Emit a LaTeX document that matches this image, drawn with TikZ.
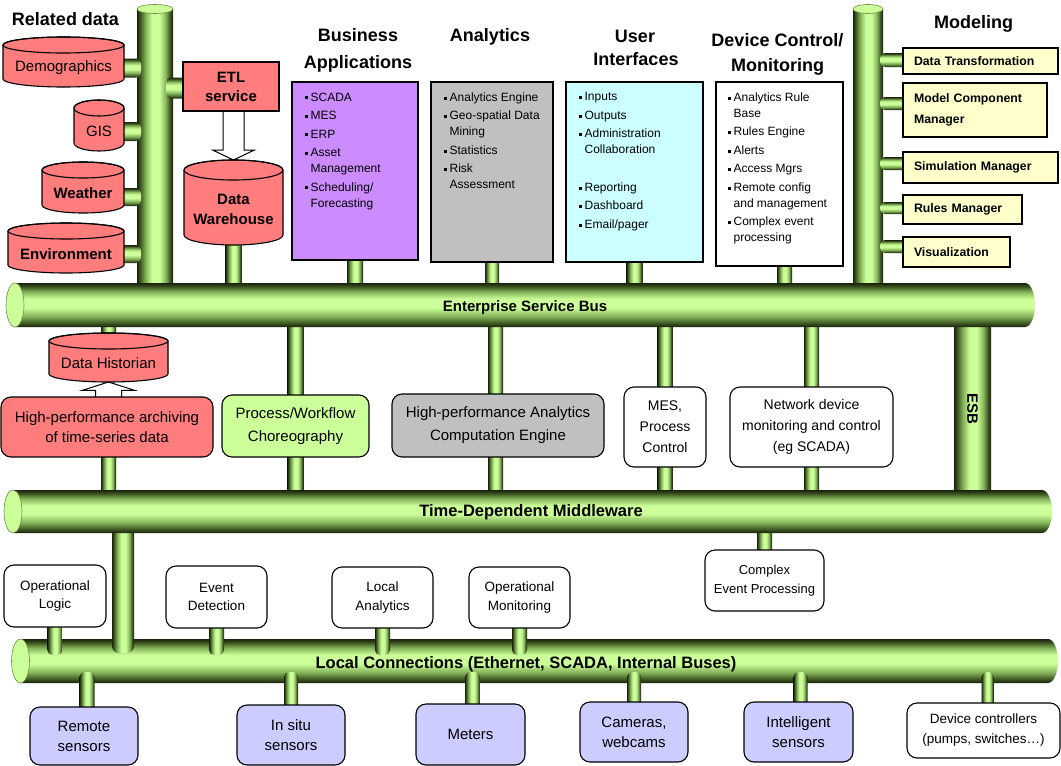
\documentclass[tikz,border=0pt]{standalone}
\usepackage{fontspec}
\setmainfont{Liberation Sans}
\usetikzlibrary{calc}

% pipe colours
\definecolor{pD}{RGB}{24,34,12}
\definecolor{pD2}{RGB}{58,82,30}
\definecolor{pM}{RGB}{132,178,90}
\definecolor{pL}{RGB}{204,255,153}
\definecolor{capRim}{RGB}{110,140,70}
% box colours
\definecolor{redF}{RGB}{255,125,125}
\definecolor{purF}{RGB}{204,140,255}
\definecolor{grayF}{RGB}{192,192,192}
\definecolor{cyanF}{RGB}{204,255,255}
\definecolor{yelF}{RGB}{255,255,204}
\definecolor{lavF}{RGB}{204,204,255}
\definecolor{grnF}{RGB}{204,255,153}

% tube shadings: dark rims, light core
\pgfdeclareverticalshading{hpipe}{100bp}{color(0bp)=(pD); color(25bp)=(pD); color(29bp)=(pD2); color(37bp)=(pM); color(47bp)=(pL); color(57bp)=(pL); color(65bp)=(pM); color(71bp)=(pD2); color(75bp)=(pD); color(100bp)=(pD)}
\pgfdeclarehorizontalshading{vpipe}{100bp}{color(0bp)=(pD); color(25bp)=(pD); color(29bp)=(pD2); color(37bp)=(pM); color(46bp)=(pL); color(56bp)=(pL); color(65bp)=(pM); color(71bp)=(pD2); color(75bp)=(pD); color(100bp)=(pD)}

\pgfdeclarelayer{back}
\pgfdeclarelayer{lbus}
\pgfdeclarelayer{lfront}
\pgfdeclarelayer{bus}
\pgfsetlayers{back,lbus,lfront,bus,main}

% small square bullet and matching indent
\newcommand\bul{\makebox[6pt][l]{\rule[1.8pt]{3pt}{3pt}}}
\newcommand\bulsp{\hspace*{6pt}}

% database drum: name, left, top, right, bottom, ellipse radius, font, text
\newcommand\dbcyl[8]{%
  \filldraw[cylstyle] (#2,{-(#3)-(#6)}) -- (#2,{-(#5)+(#6)})
    arc[start angle=180,end angle=360,x radius={((#4)-(#2))/2},y radius=#6]
    -- (#4,{-(#3)-(#6)})
    arc[start angle=0,end angle=180,x radius={((#4)-(#2))/2},y radius=#6] -- cycle;
  \draw[cylstyle,fill=none] ({((#2)+(#4))/2},{-(#3)-(#6)}) ellipse[x radius={((#4)-(#2))/2},y radius=#6];
  \node[pin,minimum width={(#4)-(#2)},minimum height={(#5)-(#3)}] (#1) at ({((#2)+(#4))/2},{-((#3)+(#5))/2}) {};
  \node[inner sep=0pt,align=center,font=#7] (#1-t) at ({((#2)+(#4))/2},{-((#3)+(#5))/2-(#6)/2-2}) {#8};
}

% horizontal bus tube: flat face on the left, rounded right end
\newcommand\hbus[2]{%
  \shade[shading=hpipe] (#1.north west) -- ([xshift=-10pt]#1.north east)
    arc[start angle=90,end angle=-90,x radius=10,y radius=#2] -- (#1.south west) -- cycle;
  \filldraw[fill=pL,draw=capRim,line width=.6pt] (#1.west) ellipse[x radius=9,y radius=#2];
}

\begin{document}
\begin{tikzpicture}[x=1pt,y=1pt,
  pin/.style={inner sep=0pt,outer sep=0pt,draw=none,shape=rectangle},
  frame/.style={draw=black,line width=1.1pt},
  sqbox/.style={frame,inner sep=0pt,align=center},
  rbox/.style={frame,rounded corners=10pt,inner sep=0pt,align=center},
  cylstyle/.style={draw=black,line width=1.1pt,fill=redF},
  title/.style={font=\fontsize{18}{22}\selectfont\bfseries,anchor=base,inner sep=0pt},
  blist/.style={anchor=north west,align=left,inner sep=0pt,font=\fontsize{12}{16}\selectfont},
  model/.style={frame,fill=yelF,align=left,inner xsep=11pt,inner ysep=0pt,font=\fontsize{12.3}{21}\selectfont\bfseries},
  blockarrow/.style={draw=black,line width=1pt,fill=white,line join=miter},
  f15/.style={font=\fontsize{15}{20}\selectfont},
  f15b/.style={font=\fontsize{15}{19}\selectfont\bfseries},
]
\useasboundingbox (0,0) rectangle (1061,-766);

% ---------- tube anchors ----------
\node[pin,minimum width=1020,minimum height=44] (esb) at (525,-305) {};
\node[pin,minimum width=1039,minimum height=43] (tdm) at (532.5,-511.5) {};
\node[pin,minimum width=1037.5,minimum height=44] (lcb) at (539.25,-661) {};
\node[pin,minimum width=36,minimum height=281] (relpipe) at (155,-149.5) {};
\node[pin,minimum width=30,minimum height=281] (modpipe) at (868,-149.5) {};
\node[pin,minimum width=37,minimum height=177] (esbv) at (972.5,-408.5) {};
\coordinate (tdmdrop) at (123,-653);

% ---------- titles ----------
\node[title] (t-rel) at (65.5,-25) {Related data};
\node[title] (t-biz1) at (358,-41.7) {Business};
\node[title] (t-biz2) at (358,-68.3) {Applications};
\node[title] (t-an) at (490,-41.7) {Analytics};
\node[title] (t-ui1) at (635,-42.3) {User};
\node[title] (t-ui2) at (636,-65.7) {Interfaces};
\node[title] (t-dev1) at (777.5,-46.7) {Device Control/};
\node[title] (t-dev2) at (777.5,-71.7) {Monitoring};
\node[title] (t-mod) at (973.5,-28.3) {Modeling};

% ---------- related data stores ----------
\dbcyl{demo}{3}{37}{124}{87}{8}{\fontsize{15}{19}\selectfont}{Demographics}
\dbcyl{gis}{74}{100}{124}{151}{8}{\fontsize{15}{19}\selectfont}{GIS}
\dbcyl{weather}{42}{162}{124}{213}{8}{\fontsize{15}{19}\selectfont\bfseries}{Weather}
\dbcyl{env}{8}{223}{124}{273}{8}{\fontsize{15}{19}\selectfont\bfseries}{Environment}
\dbcyl{dw}{184}{160}{283}{245}{10}{\fontsize{15}{20}\selectfont\bfseries}{Data\\Warehouse}
\dbcyl{hist}{49}{333}{168}{382}{8}{\fontsize{15}{19}\selectfont}{Data Historian}

\node[sqbox,fill=redF,minimum width=96,minimum height=49,f15b] (etl) at (231,-86.5) {ETL\\service};

% ---------- application blocks ----------
\node[sqbox,fill=purF,minimum width=126,minimum height=178] (biz) at (355,-171) {};
\node[sqbox,fill=grayF,minimum width=122,minimum height=180] (an) at (492,-172) {};
\node[sqbox,fill=cyanF,minimum width=137,minimum height=180] (ui) at (634.5,-172) {};
\node[sqbox,fill=white,minimum width=127,minimum height=184] (dev) at (779.5,-174) {};

\node[blist] (biz-l) at ($(biz.north west)+(13,-11)$)
  {\bul SCADA\\[2.5pt]\bul MES\\[2.5pt]\bul ERP\\[2.5pt]\bul Asset\\\bulsp Management\\[2.5pt]\bul Scheduling/\\\bulsp Forecasting};
\node[blist] (an-l) at ($(an.north west)+(13,-11)$)
  {\bul Analytics Engine\\[2.5pt]\bul Geo-spatial Data\\\bulsp Mining\\[2.5pt]\bul Statistics\\[2.5pt]\bul Risk\\\bulsp Assessment};
\node[blist] (ui-l) at ($(ui.north west)+(13,-11)$)
  {\bul Inputs\\[2.5pt]\bul Outputs\\[2.5pt]\bul Administration\\\bulsp Collaboration\\[21.5pt]\bul Reporting\\[2.5pt]\bul Dashboard\\[2.5pt]\bul Email/pager};
\node[blist] (dev-l) at ($(dev.north west)+(12,-11)$)
  {\bul Analytics Rule\\\bulsp Base\\[2.5pt]\bul Rules Engine\\[2.5pt]\bul Alerts\\[2.5pt]\bul Access Mgrs\\[2.5pt]\bul Remote config\\\bulsp and management\\[2.5pt]\bul Complex event\\\bulsp processing};

% ---------- modeling components ----------
\node[model,text width=133pt,minimum height=26] (dt) at (980.5,-61) {Data Transformation};
\node[model,text width=122pt,minimum height=54] (mcm) at (975,-110) {Model Component\\Manager};
\node[model,text width=133pt,minimum height=31] (sim) at (980.5,-167.5) {Simulation Manager};
\node[model,text width=97pt,minimum height=29] (rules) at (962.5,-209.5) {Rules Manager};
\node[model,text width=85pt,minimum height=30] (vis) at (956.5,-252) {Visualization};

% ---------- middle tier ----------
\node[rbox,fill=redF,minimum width=212,minimum height=60,f15] (arch) at (107,-427) {High-performance archiving\\of time-series data};
\node[rbox,fill=grnF,minimum width=147,minimum height=62,font=\fontsize{15}{23}\selectfont] (pwc) at (295.5,-426) {Process/Workflow\\Choreography};
\node[rbox,fill=grayF,minimum width=212,minimum height=63,font=\fontsize{15}{23}\selectfont] (hpa) at (498,-425.5) {High-performance Analytics\\Computation Engine};
\node[rbox,fill=white,minimum width=82,minimum height=80,font=\fontsize{14}{21}\selectfont] (mes) at (665,-427) {MES,\\Process\\Control};
\node[rbox,fill=white,minimum width=163,minimum height=80,font=\fontsize{14}{21}\selectfont] (ndm) at (811.5,-427) {Network device\\monitoring and control\\(eg SCADA)};
\node[rbox,fill=white,minimum width=119,minimum height=61,font=\fontsize{13}{19}\selectfont] (cep) at (764.5,-580.5) {Complex\\Event Processing};

% ---------- local functions ----------
\node[rbox,fill=white,minimum width=102,minimum height=62,font=\fontsize{13.5}{18.5}\selectfont] (opl) at (55,-596) {Operational\\Logic};
\node[rbox,fill=white,minimum width=101,minimum height=62,font=\fontsize{13.5}{18.5}\selectfont] (evd) at (216.5,-597) {Event\\Detection};
\node[rbox,fill=white,minimum width=101,minimum height=61,font=\fontsize{13.5}{18.5}\selectfont] (lan) at (382.5,-597.5) {Local\\Analytics};
\node[rbox,fill=white,minimum width=101,minimum height=61,font=\fontsize{13.5}{18.5}\selectfont] (opm) at (519.5,-597.5) {Operational\\Monitoring};

% ---------- field devices ----------
\node[rbox,fill=lavF,minimum width=108,minimum height=58,f15] (rs) at (84,-736) {Remote\\sensors};
\node[rbox,fill=lavF,minimum width=108,minimum height=60,f15] (iss) at (291,-735) {In situ\\sensors};
\node[rbox,fill=lavF,minimum width=109,minimum height=61,f15] (met) at (470.5,-734.5) {Meters};
\node[rbox,fill=lavF,minimum width=108,minimum height=60,f15] (cam) at (634,-732) {Cameras,\\webcams};
\node[rbox,fill=lavF,minimum width=109,minimum height=60,f15] (ins) at (798.5,-732) {Intelligent\\sensors};
\node[rbox,fill=white,minimum width=153,minimum height=55,font=\fontsize{13.5}{20}\selectfont] (dc) at (983.5,-730.5) {Device controllers\\(pumps, switches\ldots)};

% ---------- tubes behind everything ----------
\begin{pgfonlayer}{back}
  % vertical risers with an open top face
  \shade[shading=vpipe] (relpipe.south west) rectangle (relpipe.north east);
  \filldraw[fill=pL,draw=capRim,line width=.6pt] (relpipe.north) ellipse[x radius=18,y radius=4.5];
  \shade[shading=vpipe] (modpipe.south west) rectangle (modpipe.north east);
  \filldraw[fill=pL,draw=capRim,line width=.6pt] (modpipe.north) ellipse[x radius=15,y radius=4.5];
  \shade[shading=vpipe] (esbv.south west) rectangle (esbv.north east);
  % drops onto the Enterprise Service Bus
  \shade[shading=vpipe] ($(biz.center)+(-8,0)$) rectangle ($(biz.center |- esb.center)+(8,0)$);
  \shade[shading=vpipe] ($(an.center)+(-7,0)$) rectangle ($(an.center |- esb.center)+(7,0)$);
  \shade[shading=vpipe] ($(ui.center)+(-8,0)$) rectangle ($(ui.center |- esb.center)+(8,0)$);
  \shade[shading=vpipe] ($(dev.center)+(-2.5,0)$) rectangle ($(dev.center |- esb.center)+(12.5,0)$);
  \shade[shading=vpipe] ($(dw.center)+(-8,0)$) rectangle ($(dw.center |- esb.center)+(8,0)$);
  % links between the two middleware buses
  \shade[shading=vpipe] ($(hist.center |- esb.center)+(-7.5,0)$) rectangle ($(hist.center)+(7.5,0)$);
  \shade[shading=vpipe] ($(hist.center |- arch.center)+(-7.5,0)$) rectangle ($(hist.center |- tdm.center)+(7.5,0)$);
  \shade[shading=vpipe] ($(pwc.center |- esb.center)+(-8,0)$) rectangle ($(pwc.center |- tdm.center)+(8,0)$);
  \shade[shading=vpipe] ($(hpa.center |- esb.center)+(-10,0)$) rectangle ($(hpa.center |- tdm.center)+(5,0)$);
  \shade[shading=vpipe] ($(mes.center |- esb.center)+(-7.5,0)$) rectangle ($(mes.center |- tdm.center)+(7.5,0)$);
  \shade[shading=vpipe] ($(ndm.center |- esb.center)+(-7.5,0)$) rectangle ($(ndm.center |- tdm.center)+(7.5,0)$);
  \shade[shading=vpipe] ($(cep.center)+(-7.5,0)$) rectangle ($(cep.center |- tdm.center)+(7.5,0)$);
\end{pgfonlayer}

% ---------- local bus ----------
\begin{pgfonlayer}{lbus}
  \hbus{lcb}{22}
\end{pgfonlayer}

\begin{pgfonlayer}{lfront}
  % taps on the local bus
  \shade[shading=vpipe,rounded corners=5pt] ($(opl.center)+(-7.5,0)$) rectangle ($(opl.center |- lcb.north)+(7.5,-16)$);
  \shade[shading=vpipe,rounded corners=5pt] ($(evd.center)+(-7.5,0)$) rectangle ($(evd.center |- lcb.north)+(7.5,-16)$);
  \shade[shading=vpipe,rounded corners=5pt] ($(lan.center)+(-7.5,0)$) rectangle ($(lan.center |- lcb.north)+(7.5,-16)$);
  \shade[shading=vpipe,rounded corners=5pt] ($(opm.center)+(-7.5,0)$) rectangle ($(opm.center |- lcb.north)+(7.5,-16)$);
  \shade[shading=vpipe,rounded corners=5pt] ($(rs.center)+(-4.5,0)$) rectangle ($(rs.center |- lcb.south)+(10.5,11)$);
  \shade[shading=vpipe,rounded corners=5pt] ($(iss.center)+(-7,0)$) rectangle ($(iss.center |- lcb.south)+(7,11)$);
  \shade[shading=vpipe,rounded corners=5pt] ($(met.center)+(-5.5,0)$) rectangle ($(met.center |- lcb.south)+(9.5,11)$);
  \shade[shading=vpipe,rounded corners=5pt] ($(cam.center)+(-7,0)$) rectangle ($(cam.center |- lcb.south)+(7,11)$);
  \shade[shading=vpipe,rounded corners=5pt] ($(ins.center)+(-5,0)$) rectangle ($(ins.center |- lcb.south)+(9,11)$);
  \shade[shading=vpipe,rounded corners=5pt] ($(dc.center)+(-2,0)$) rectangle ($(dc.center |- lcb.south)+(10,11)$);
  % drop from the time-dependent middleware
  \shade[shading=vpipe,rounded corners=7pt] ($(tdmdrop |- tdm.center)+(-11,0)$) rectangle ($(tdmdrop)+(11,0)$);
  % side taps on the two risers
  \shade[shading=hpipe,rounded corners=5pt] ($(demo-t -| demo.center)+(0,9.5)$) rectangle ($(demo-t -| relpipe.west)+(4,-9.5)$);
  \shade[shading=hpipe,rounded corners=5pt] ($(gis-t -| gis.center)+(0,9.5)$) rectangle ($(gis-t -| relpipe.west)+(4,-9.5)$);
  \shade[shading=hpipe,rounded corners=5pt] ($(weather-t -| weather.center)+(0,5.5)$) rectangle ($(weather-t -| relpipe.west)+(4,-12.5)$);
  \shade[shading=hpipe,rounded corners=5pt] ($(env-t -| env.center)+(0,9)$) rectangle ($(env-t -| relpipe.west)+(4,-9)$);
  \shade[shading=hpipe,rounded corners=5pt] ($(etl.center)+(0,9)$) rectangle ($(etl.center -| relpipe.east)+(-7,-12)$);
  \shade[shading=hpipe,rounded corners=5pt] ($(dt.center)+(0,8)$) rectangle ($(dt.center -| modpipe.east)+(-3,-6)$);
  \shade[shading=hpipe,rounded corners=5pt] ($(mcm.center)+(0,13)$) rectangle ($(mcm.center -| modpipe.east)+(-3,0)$);
  \shade[shading=hpipe,rounded corners=5pt] ($(sim.center)+(0,10.5)$) rectangle ($(sim.center -| modpipe.east)+(-3,-2.5)$);
  \shade[shading=hpipe,rounded corners=5pt] ($(rules.center)+(0,7.5)$) rectangle ($(rules.center -| modpipe.east)+(-3,-4.5)$);
  \shade[shading=hpipe,rounded corners=5pt] ($(vis.center)+(0,12)$) rectangle ($(vis.center -| modpipe.east)+(-3,-1)$);
  % hollow block arrows
  \draw[blockarrow] ($(dw.north |- etl.south)+(-10.5,1)$) -- ($(dw.north)+(-10.5,10)$) -- ($(dw.north)+(-21,10)$)
    -- (dw.north) -- ($(dw.north)+(21,10)$) -- ($(dw.north)+(10.5,10)$) -- ($(dw.north |- etl.south)+(10.5,1)$) -- cycle;
  \draw[blockarrow] ($(hist.south |- arch.north)+(-13,-1)$) -- ($(hist.south |- arch.north)+(-13,6)$) -- ($(hist.south |- arch.north)+(-26.5,6)$)
    -- (hist.south) -- ($(hist.south |- arch.north)+(26.5,6)$) -- ($(hist.south |- arch.north)+(13,6)$) -- ($(hist.south |- arch.north)+(13,-1)$) -- cycle;
\end{pgfonlayer}

% ---------- main buses ----------
\begin{pgfonlayer}{bus}
  \hbus{esb}{22}
  \hbus{tdm}{21.5}
\end{pgfonlayer}

% ---------- bus labels ----------
\node[anchor=base,inner sep=0pt,font=\fontsize{15}{18}\selectfont\bfseries] (esb-l) at (525,-311) {Enterprise Service Bus};
\node[anchor=base,inner sep=0pt,font=\fontsize{16.5}{20}\selectfont\bfseries] (tdm-l) at (531,-516.7) {Time-Dependent Middleware};
\node[anchor=base,inner sep=0pt,font=\fontsize{16.5}{20}\selectfont\bfseries] (lcb-l) at (526,-668) {Local Connections (Ethernet, SCADA, Internal Buses)};
\node[rotate=-90,inner sep=0pt,font=\fontsize{15}{18}\selectfont\bfseries] (esbv-l) at (esbv.center) {ESB};

\end{tikzpicture}
\end{document}
